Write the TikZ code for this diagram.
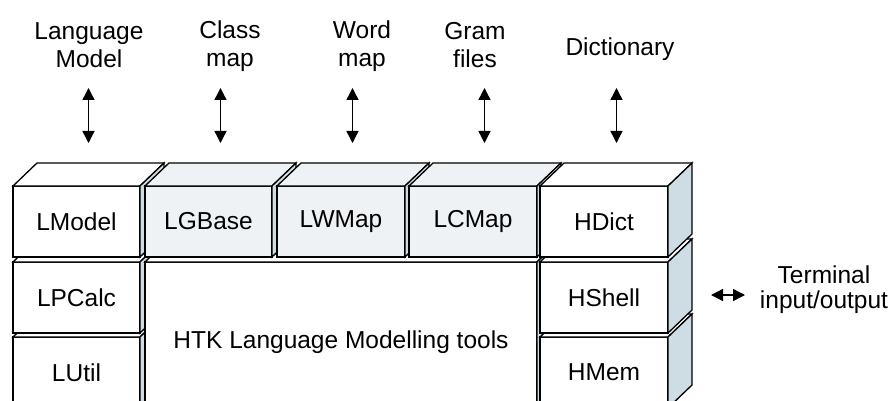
\documentclass[tikz,border=0pt]{standalone}
\usepackage{fontspec}
\setmainfont{Liberation Sans}
\usetikzlibrary{arrows.meta}
\definecolor{sideblue}{HTML}{CEDCE3}
\definecolor{paleblue}{HTML}{EEF2F5}
\tikzset{
  edge/.style={draw=black, line width=1.3pt, line join=miter},
  boxface/.style={edge, anchor=north west, inner sep=0pt, outer sep=0pt,
    font=\fontsize{24.5}{28}\selectfont, text=black},
  lbl/.style={font=\fontsize{24.5}{28}\selectfont, align=center, inner sep=0pt},
  dbl/.style={line width=1.4pt, {Triangle[length=12pt,width=12pt]}-{Triangle[length=12pt,width=12pt]}},
}
% name, x, y, width, height, front fill, top fill, text
\newcommand\mycube[8]{%
  \node[boxface, minimum width=#4pt, minimum height=#5pt, fill=#6] (#1) at (#2,#3) {#8};
  \draw[edge, fill=#7] (#1.north west) -- ++(24,-23) -- ([shift={(24,-23)}]#1.north east) -- (#1.north east) -- cycle;
  \draw[edge, fill=sideblue] (#1.north east) -- ++(24,-23) -- ([shift={(24,-23)}]#1.south east) -- (#1.south east) -- cycle;
}
\begin{document}
\begin{tikzpicture}[x=1pt,y=-1pt]
\useasboundingbox (0,0) rectangle (889,401);
\fill[white] (0,0) rectangle (889,401);
\begin{scope}
\clip (0,0) rectangle (889,401);
% left column
\mycube{lutil}{13}{337}{127}{71}{white}{white}{LUtil}
\mycube{lpcalc}{13}{262}{127}{71}{white}{white}{LPCalc}
\mycube{lmodel}{13}{186}{127}{71}{white}{white}{LModel}
% big box
\mycube{htk}{145}{262}{392}{170}{white}{white}{}
\node[lbl] (htktext) at (341,342) {HTK Language Modelling tools};
% top row
\mycube{lgbase}{145}{186}{127}{71}{paleblue}{paleblue}{LGBase}
\mycube{lwmap}{277}{186}{128}{71}{paleblue}{paleblue}{LWMap}
\mycube{lcmap}{409}{186}{128}{71}{paleblue}{paleblue}{LCMap}
% right column
\mycube{hmem}{540}{337}{128}{71}{white}{white}{HMem}
\mycube{hshell}{540}{262}{128}{71}{white}{white}{HShell}
\mycube{hdict}{540}{186}{128}{71}{white}{white}{HDict}
\end{scope}
% labels
\node[lbl] (llm) at (89,45) {Language\\Model};
\node[lbl] (lcm) at (230,46) {Class\\map};
\node[lbl] (lwm) at (362,46) {Word\\map};
\node[lbl] (lgf) at (475,45) {Gram\\files};
\node[lbl] (ldi) at (620,49) {Dictionary};
\node[lbl, font=\fontsize{24.5}{25}\selectfont] (lterm) at (824,290) {Terminal\\input/output};
% arrows
\foreach \n/\x in {a/88.5,b/220.5,c/352.5,d/484.5,e/616.5}{
  \coordinate (\n top) at (\x,88);
  \coordinate (\n bot) at (\x,143);
  \draw[dbl] (\n top) -- (\n bot);
}
\coordinate (tl) at (711,295);
\coordinate (tr) at (745,295);
\draw[dbl] (tl) -- (tr);
\end{tikzpicture}
\end{document}
